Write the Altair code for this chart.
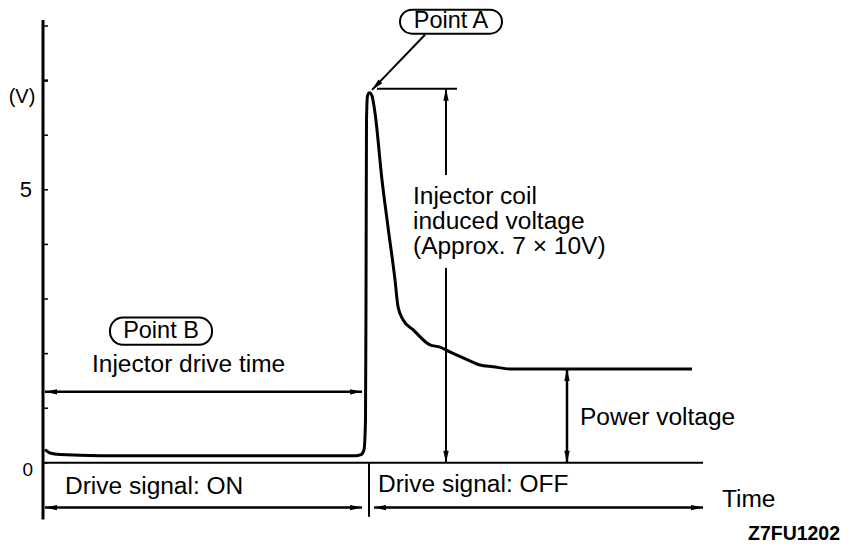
import altair as alt
import pandas as pd

# ---- waveform (time in arbitrary units, volts) ----
time_pts = [2, 7, 17, 57, 312, 318, 321, 322.5, 323, 323.5, 324.5, 326.5, 329, 332,
            339, 345, 352, 355, 360, 370, 387, 397, 407, 424, 437, 450, 467, 649]
volt_pts = [0.24, 0.18, 0.15, 0.13, 0.13, 0.15, 0.24, 0.79, 2.99, 6.28, 6.72, 6.78, 6.72, 6.41,
            5.18, 4.32, 3.35, 2.86, 2.62, 2.44, 2.16, 2.12, 2.03, 1.89, 1.79, 1.76, 1.72, 1.72]

# y-axis ticks and labels
tick_vals = [0, 1, 2, 3, 4, 5, 6, 7, 8]
label_vals = [0, 5]
label_text = ["0", "5"]

# annotation line segments (x1, y1, x2, y2)
seg_x1 = [0, 0, 334, 403, 403, 524, 2, 2, 331, 326, 382]
seg_y1 = [-1.04, 0, 6.85, 6.85, 3.57, 1.72, 1.30, -0.82, -0.82, 0, 7.84]
seg_x2 = [0, 660, 414, 403, 403, 524, 319, 319, 660, 326, 329]
seg_y2 = [8.11, 0, 6.85, 5.27, 0, 0, 1.30, -0.82, -0.82, -0.99, 6.83]
seg_w = [3, 2, 2, 2, 2, 2.5, 2.5, 2.5, 2.5, 2, 2]

# arrow heads (tip x, tip y, direction in degrees clockwise from up)
head_x = [329, 403, 403, 524, 524, 2, 319, 2, 319, 331, 660]
head_y = [6.83, 6.85, 0, 1.72, 0, 1.30, 1.30, -0.82, -0.82, -0.82, -0.82]
head_dir = [224, 0, 180, 0, 180, 270, 90, 270, 90, 270, 90]

# left-aligned annotation texts
note_text = ["Injector coil", "induced voltage", "(Approx. 7 \u00d7 10V)",
             "Injector drive time", "Drive signal: ON", "Drive signal: OFF",
             "Power voltage", "Time"]
note_x = [370, 370, 370, 49, 22, 335, 537, 679]
note_y = [4.87, 4.41, 3.96, 1.79, -0.44, -0.40, 0.82, -0.68]

# boxed labels
box_text = ["Point A", "Point B"]
box_cx = [408, 118]
box_cy = [8.09, 2.41]
box_x1 = [357, 67]
box_x2 = [459, 169]
box_y1 = [8.30, 2.66]
box_y2 = [7.86, 2.16]

FONT = "Liberation Sans"
PX_PER_V = 54.6
YMAX, YMIN = 8.33, -1.50
XMAX = 810

xs = alt.Scale(domain=[0, XMAX], nice=False, zero=False)
ys = alt.Scale(domain=[YMIN, YMAX], nice=False, zero=False)
X = lambda f: alt.X(f, type="quantitative", scale=xs, axis=None)
Y = lambda f: alt.Y(f, type="quantitative", scale=ys, axis=None)

wave = pd.DataFrame({"t": time_pts, "v": volt_pts})
ticks = pd.DataFrame({"v": tick_vals, "x0": 0, "x1": 5, "w": [2.5 if v == 7 else 1.5 for v in tick_vals]})
labels = pd.DataFrame({"v": label_vals, "lab": label_text})
segs = pd.DataFrame({"x1": seg_x1, "y1": seg_y1, "x2": seg_x2, "y2": seg_y2, "w": seg_w})
heads = pd.DataFrame({"x": head_x, "y": head_y, "a": head_dir})
notes = pd.DataFrame({"txt": note_text, "x": note_x, "y": note_y})
boxes = pd.DataFrame({"txt": box_text, "cx": box_cx, "cy": box_cy,
                      "x1": box_x1, "x2": box_x2, "y1": box_y1, "y2": box_y2})

seg_layer = alt.Chart(segs).mark_rule(color="black").encode(
    x=X("x1"), y=Y("y1"), x2="x2", y2="y2",
    strokeWidth=alt.StrokeWidth("w:Q", scale=None))

tick_layer = alt.Chart(ticks).mark_rule(color="black").encode(
    x=X("x0"), x2="x1", y=Y("v"),
    strokeWidth=alt.StrokeWidth("w:Q", scale=None))

wave_layer = alt.Chart(wave).mark_line(color="black", strokeWidth=3,
                                       interpolate="monotone").encode(
    x=X("t"), y=Y("v"))

head_layer = alt.Chart(heads).mark_point(
    shape="M0,0L0.45,2L-0.45,2Z", filled=True, color="black",
    size=144, opacity=1).encode(
    x=X("x"), y=Y("y"), angle=alt.Angle("a:Q", scale=None))

note_layer = alt.Chart(notes).mark_text(
    align="left", baseline="middle", font=FONT, fontSize=24.5,
    color="black").encode(x=X("x"), y=Y("y"), text="txt:N")

box_rect = alt.Chart(boxes).mark_rect(
    fillOpacity=0, stroke="black", strokeWidth=2, cornerRadius=13).encode(
    x=X("x1"), x2="x2", y=Y("y1"), y2="y2")

box_text_layer = alt.Chart(boxes).mark_text(
    align="center", baseline="middle", font=FONT, fontSize=23.5,
    color="black").encode(x=X("cx"), y=Y("cy"), text="txt:N")

axis_labels = alt.Chart(labels).transform_calculate(
    xx="datum.v == 0 ? -10 : -11", yy="datum.v == 0 ? -0.13 : datum.v",
    fs="datum.v == 0 ? 19 : 22").mark_text(
    align="right", baseline="middle", font=FONT, color="black").encode(
    x=X("xx"), y=Y("yy"), text="lab:N",
    size=alt.Size("fs:Q", scale=None))

unit_label = alt.Chart(pd.DataFrame({"x": [-21], "y": [6.70], "t": ["(V)"]})).mark_text(
    align="center", baseline="middle", font=FONT, fontSize=20, color="black").encode(
    x=X("x"), y=Y("y"), text="t:N")

code_label = alt.Chart(pd.DataFrame({"x": [705], "y": [-1.31], "t": ["Z7FU1202"]})).mark_text(
    align="left", baseline="middle", font=FONT, fontSize=19.5, fontWeight="bold",
    color="black").encode(x=X("x"), y=Y("y"), text="t:N")

chart = alt.layer(
    seg_layer, tick_layer, wave_layer, head_layer, note_layer,
    box_rect, box_text_layer, axis_labels, unit_label, code_label
).properties(
    width=XMAX, height=(YMAX - YMIN) * PX_PER_V,
    autosize=alt.AutoSizeParams(type="none"),
    padding={"left": 35, "top": 0, "right": 0, "bottom": 0},
    background="white"
).configure_view(stroke=None)

chart.save("out.html", embed_options={"renderer": "svg", "actions": False})
